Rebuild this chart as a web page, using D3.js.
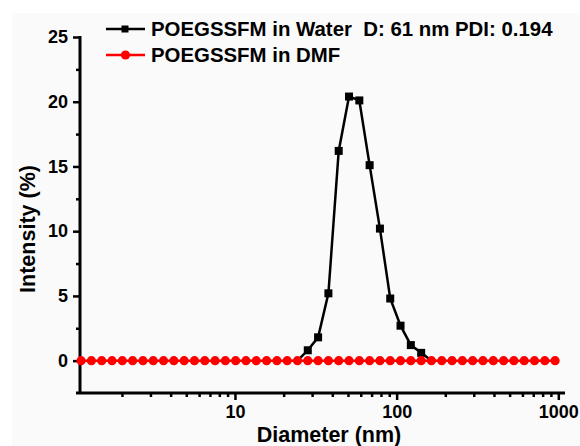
<!DOCTYPE html>
<html>
<head>
<meta charset="utf-8">
<title>DLS size distribution</title>
<style>
body {
  margin: 0;
  padding: 0;
  background: #fff;
}
svg text {
  font-family: "Liberation Sans", Arial, sans-serif;
  font-weight: bold;
  fill: #000;
}
.legend text {
  white-space: pre;
}
</style>
<script src="https://d3js.org/d3.v7.min.js"></script>
</head>
<body>
<svg id="chart" width="580" height="446"></svg>
<script>
// size bins (nm) in view
const diameters = [1.117, 1.294, 1.499, 1.736, 2.01, 2.328, 2.696, 3.122, 3.615, 4.187,
  4.849, 5.615, 6.503, 7.531, 8.721, 10.1, 11.7, 13.54, 15.69, 18.17,
  21.04, 24.36, 28.21, 32.67, 37.84, 43.82, 50.75, 58.77, 68.06, 78.82,
  91.28, 105.7, 122.4, 141.8, 164.2, 190.1, 220.2, 255.0, 295.3, 342.0,
  396.1, 458.7, 531.2, 615.1, 712.4, 825.0, 955.4];

// water: only the peak region (zeros on both sides)
const waterDiam = [24.36, 28.21, 32.67, 37.84, 43.82, 50.75, 58.77, 68.06, 78.82, 91.28, 105.7, 122.4, 141.8, 164.2];
const waterInt  = [0, 0.8, 1.8, 5.2, 16.2, 20.4, 20.1, 15.1, 10.2, 4.8, 2.7, 1.2, 0.6, 0];

// DMF: flat zero across all bins
const dmfInt = [0, 0, 0, 0, 0, 0, 0, 0, 0, 0,
  0, 0, 0, 0, 0, 0, 0, 0, 0, 0,
  0, 0, 0, 0, 0, 0, 0, 0, 0, 0,
  0, 0, 0, 0, 0, 0, 0, 0, 0, 0,
  0, 0, 0, 0, 0, 0, 0];

const xMajor = [10, 100, 1000];
const xMinor = [2, 3, 4, 5, 6, 7, 8, 9, 20, 30, 40, 50, 60, 70, 80, 90, 200, 300, 400, 500, 600, 700, 800, 900];
const yMajor = [0, 5, 10, 15, 20, 25];
const yMinor = [2.5, 7.5, 12.5, 17.5, 22.5];

const legendLabels = ["POEGSSFM in Water  D: 61 nm PDI: 0.194", "POEGSSFM in DMF"];

const svg = d3.select("#chart");

// light panel behind the plot
svg.append("rect")
  .attr("x", 12).attr("y", 13)
  .attr("width", 568).attr("height", 433)
  .attr("fill", "#fafafa");

const x = d3.scaleLog().domain([1.1, 1100]).range([80, 565]);
const y = d3.scaleLinear().domain([-2.5, 25]).range([393, 37]);

// x axis
const xAxisG = svg.append("g").attr("transform", "translate(0,393)");
xAxisG.call(d3.axisBottom(x).tickValues(xMajor).tickFormat(d3.format("d"))
  .tickSize(7).tickSizeOuter(0).tickPadding(5));
xAxisG.append("g").call(d3.axisBottom(x).tickValues(xMinor).tickFormat("")
  .tickSize(4).tickSizeOuter(0));
xAxisG.selectAll(".domain").remove();
xAxisG.selectAll("line").attr("stroke", "#000").attr("stroke-width", 2.5);
xAxisG.selectAll("text").attr("font-size", 18);
svg.append("line")
  .attr("x1", 76).attr("x2", 565)
  .attr("y1", 393).attr("y2", 393)
  .attr("stroke", "#000").attr("stroke-width", 3);

// y axis
const yAxisG = svg.append("g").attr("transform", "translate(80,0)");
yAxisG.call(d3.axisLeft(y).tickValues(yMajor).tickFormat(d3.format("d"))
  .tickSize(7).tickSizeOuter(0).tickPadding(5));
yAxisG.append("g").call(d3.axisLeft(y).tickValues(yMinor).tickFormat("")
  .tickSize(4).tickSizeOuter(0));
yAxisG.selectAll(".domain").remove();
yAxisG.selectAll("line").attr("stroke", "#000").attr("stroke-width", 2.5);
yAxisG.selectAll("text").attr("font-size", 18);
svg.append("line")
  .attr("x1", 80).attr("x2", 80)
  .attr("y1", 36).attr("y2", 394)
  .attr("stroke", "#000").attr("stroke-width", 3);

// axis titles
svg.append("text")
  .attr("x", 329).attr("y", 442)
  .attr("text-anchor", "middle")
  .attr("font-size", 21.5)
  .text("Diameter (nm)");

svg.append("text")
  .attr("transform", "translate(35,229) rotate(-90)")
  .attr("text-anchor", "middle")
  .attr("font-size", 21.5)
  .text("Intensity (%)");

const line = d3.line().x(d => x(d[0])).y(d => y(d[1]));

// water series
const water = waterDiam.map((d, i) => [d, waterInt[i]]);
svg.append("path")
  .datum(water)
  .attr("d", line)
  .attr("fill", "none")
  .attr("stroke", "#000")
  .attr("stroke-width", 2.5);
svg.append("g").selectAll("rect")
  .data(water.filter(d => d[1] > 0))
  .join("rect")
  .attr("x", d => x(d[0]) - 4)
  .attr("y", d => y(d[1]) - 4)
  .attr("width", 8).attr("height", 8)
  .attr("fill", "#000");

// DMF series
const dmf = diameters.map((d, i) => [d, dmfInt[i]]);
svg.append("path")
  .datum(dmf)
  .attr("d", line)
  .attr("fill", "none")
  .attr("stroke", "#f00")
  .attr("stroke-width", 2.5);
svg.append("g").selectAll("circle")
  .data(dmf)
  .join("circle")
  .attr("cx", d => x(d[0]))
  .attr("cy", d => y(d[1]))
  .attr("r", 4.6)
  .attr("fill", "#f00");

// legend
const legend = svg.append("g").attr("class", "legend");
const legendY = [29, 55];
legend.append("line")
  .attr("x1", 106).attr("x2", 145).attr("y1", legendY[0]).attr("y2", legendY[0])
  .attr("stroke", "#000").attr("stroke-width", 2.5);
legend.append("rect")
  .attr("x", 121.5).attr("y", legendY[0] - 3.5)
  .attr("width", 7).attr("height", 7)
  .attr("fill", "#000");
legend.append("line")
  .attr("x1", 106).attr("x2", 145).attr("y1", legendY[1]).attr("y2", legendY[1])
  .attr("stroke", "#f00").attr("stroke-width", 2.5);
legend.append("circle")
  .attr("cx", 125.5).attr("cy", legendY[1]).attr("r", 4.6)
  .attr("fill", "#f00");
legend.selectAll("text")
  .data(legendLabels)
  .join("text")
  .attr("x", 151)
  .attr("y", (d, i) => legendY[i] + 7)
  .attr("font-size", 20.4)
  .text(d => d);
</script>
</body>
</html>
